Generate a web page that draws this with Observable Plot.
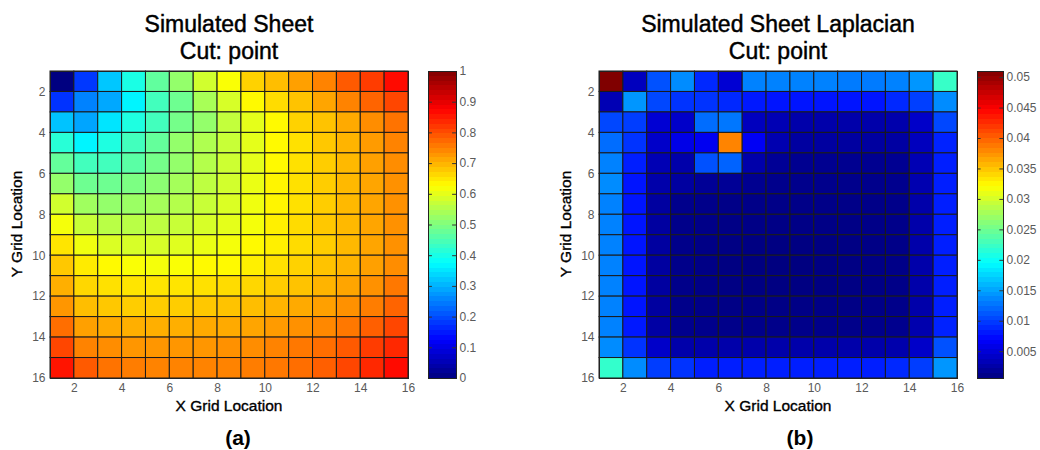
<!DOCTYPE html>
<html>
<head>
<meta charset="utf-8">
<script src="https://cdn.jsdelivr.net/npm/d3@7"></script>
<script src="https://cdn.jsdelivr.net/npm/@observablehq/plot@0.6"></script>
<style>
  body { margin: 0; background: #fff; }
  #fig { position: relative; width: 1040px; height: 450px; overflow: hidden;
         font-family: "Liberation Sans", Arial, Helvetica, sans-serif; color: #000; }
  .abs { position: absolute; }
  .title { font-size: 23px; font-weight: normal; text-align: center; line-height: 27px; width: 400px;
           -webkit-text-stroke: 0.45px #000; }
  .xlab { font-size: 15.5px; font-weight: normal; text-align: center; width: 300px; line-height: 18px;
          -webkit-text-stroke: 0.35px #000; }
  .ylab { font-size: 15.5px; font-weight: normal; text-align: center; width: 300px; line-height: 18px;
          -webkit-text-stroke: 0.35px #000;
          transform: rotate(-90deg); transform-origin: 50% 50%; }
  .cap { font-size: 21px; font-weight: bold; text-align: center; width: 100px; line-height: 24px; }
</style>
</head>
<body>
<div id="fig"></div>
<script>
// ---------- data ----------
const gridNodes = [1,2,3,4,5,6,7,8,9,10,11,12,13,14,15,16];
const gridTicks = [2,4,6,8,10,12,14,16];

// Simulated sheet (rows top->bottom = Y 1..15, columns = X 1..15)
const sheetValues = [
  [0.000,0.180,0.320,0.400,0.470,0.520,0.580,0.620,0.669,0.689,0.718,0.747,0.787,0.816,0.865],
  [0.174,0.252,0.290,0.365,0.440,0.483,0.540,0.586,0.630,0.659,0.684,0.713,0.747,0.777,0.806],
  [0.316,0.287,0.350,0.404,0.440,0.490,0.520,0.566,0.600,0.630,0.669,0.684,0.708,0.737,0.762],
  [0.414,0.365,0.404,0.440,0.473,0.520,0.547,0.571,0.600,0.630,0.654,0.679,0.699,0.723,0.747],
  [0.473,0.440,0.440,0.463,0.490,0.520,0.551,0.576,0.600,0.630,0.654,0.674,0.694,0.718,0.737],
  [0.520,0.483,0.483,0.497,0.512,0.537,0.561,0.581,0.605,0.635,0.654,0.674,0.694,0.713,0.733],
  [0.580,0.532,0.520,0.527,0.537,0.551,0.571,0.590,0.610,0.635,0.654,0.674,0.694,0.713,0.733],
  [0.615,0.571,0.556,0.556,0.561,0.571,0.586,0.600,0.615,0.640,0.659,0.679,0.694,0.713,0.733],
  [0.650,0.610,0.590,0.586,0.586,0.595,0.605,0.615,0.630,0.640,0.659,0.674,0.694,0.713,0.733],
  [0.679,0.645,0.630,0.620,0.615,0.620,0.630,0.630,0.640,0.654,0.669,0.684,0.699,0.718,0.737],
  [0.703,0.664,0.654,0.650,0.650,0.650,0.654,0.659,0.664,0.674,0.684,0.699,0.713,0.733,0.757],
  [0.728,0.689,0.679,0.674,0.674,0.674,0.679,0.684,0.689,0.699,0.708,0.718,0.733,0.752,0.777],
  [0.767,0.718,0.708,0.703,0.703,0.703,0.708,0.708,0.713,0.723,0.733,0.742,0.757,0.782,0.806],
  [0.806,0.747,0.737,0.728,0.728,0.728,0.728,0.733,0.737,0.747,0.757,0.767,0.787,0.816,0.836],
  [0.855,0.787,0.762,0.752,0.747,0.747,0.747,0.747,0.752,0.757,0.767,0.782,0.806,0.836,0.865]
];

// Simulated sheet Laplacian
const laplacianValues = [
  [0.0510,0.0037,0.0109,0.0138,0.0089,0.0047,0.0133,0.0133,0.0133,0.0133,0.0130,0.0130,0.0133,0.0143,0.0222],
  [0.0032,0.0143,0.0104,0.0094,0.0094,0.0089,0.0081,0.0079,0.0079,0.0079,0.0079,0.0079,0.0089,0.0100,0.0138],
  [0.0104,0.0099,0.0047,0.0042,0.0123,0.0128,0.0037,0.0032,0.0027,0.0027,0.0027,0.0027,0.0028,0.0042,0.0104],
  [0.0123,0.0094,0.0042,0.0057,0.0062,0.0382,0.0064,0.0030,0.0022,0.0022,0.0022,0.0022,0.0023,0.0037,0.0086],
  [0.0133,0.0084,0.0032,0.0027,0.0109,0.0118,0.0027,0.0017,0.0014,0.0014,0.0014,0.0014,0.0015,0.0032,0.0084],
  [0.0138,0.0079,0.0027,0.0022,0.0017,0.0017,0.0014,0.0012,0.0012,0.0012,0.0012,0.0012,0.0013,0.0030,0.0084],
  [0.0133,0.0079,0.0022,0.0012,0.0011,0.0010,0.0010,0.0010,0.0010,0.0010,0.0010,0.0010,0.0011,0.0027,0.0084],
  [0.0133,0.0079,0.0022,0.0011,0.0010,0.0009,0.0009,0.0009,0.0009,0.0009,0.0009,0.0010,0.0011,0.0027,0.0084],
  [0.0133,0.0079,0.0022,0.0011,0.0009,0.0008,0.0007,0.0007,0.0007,0.0007,0.0008,0.0009,0.0010,0.0027,0.0084],
  [0.0133,0.0079,0.0022,0.0011,0.0009,0.0007,0.0006,0.0006,0.0006,0.0007,0.0008,0.0009,0.0010,0.0027,0.0084],
  [0.0133,0.0079,0.0022,0.0011,0.0009,0.0008,0.0007,0.0007,0.0007,0.0007,0.0008,0.0009,0.0010,0.0027,0.0084],
  [0.0133,0.0079,0.0022,0.0011,0.0010,0.0009,0.0009,0.0009,0.0009,0.0009,0.0009,0.0010,0.0011,0.0027,0.0084],
  [0.0133,0.0081,0.0024,0.0013,0.0012,0.0011,0.0011,0.0011,0.0011,0.0011,0.0011,0.0012,0.0013,0.0029,0.0086],
  [0.0138,0.0094,0.0042,0.0027,0.0027,0.0027,0.0027,0.0027,0.0027,0.0027,0.0027,0.0027,0.0028,0.0042,0.0109],
  [0.0220,0.0138,0.0099,0.0094,0.0084,0.0084,0.0084,0.0084,0.0084,0.0084,0.0084,0.0084,0.0089,0.0099,0.0143]
];

const sheetRange = [0, 1];
const laplacianRange = [0.0006, 0.051];
const sheetBarTicks = [0,0.1,0.2,0.3,0.4,0.5,0.6,0.7,0.8,0.9,1];
const laplacianBarTicks = [0.005,0.01,0.015,0.02,0.025,0.03,0.035,0.04,0.045,0.05];

const titlesA = ["Simulated Sheet", "Cut: point"];
const titlesB = ["Simulated Sheet Laplacian", "Cut: point"];
const xLabel = "X Grid Location";
const yLabel = "Y Grid Location";
const captions = ["(a)", "(b)"];

// ---------- helpers ----------
const jetStops = [0, 0.125, 0.375, 0.625, 0.875, 1];
const jetColors = ["#000080", "#0000ff", "#00ffff", "#ffff00", "#ff0000", "#800000"];
const FONT = '"Liberation Sans", Arial, Helvetica, sans-serif';

function colorScale([lo, hi]) {
  return { type: "linear", domain: jetStops.map(t => lo + t * (hi - lo)), range: jetColors, clamp: true };
}

function cellsOf(values) {
  const out = [];
  values.forEach((row, r) => row.forEach((v, c) => out.push({
    x1: gridNodes[c], x2: gridNodes[c + 1], y1: gridNodes[r], y2: gridNodes[r + 1], v
  })));
  return out;
}

function heatmap(values, range) {
  return Plot.plot({
    width: 420, height: 400,
    marginLeft: 50, marginRight: 12, marginTop: 71, marginBottom: 22,
    x: { domain: [1, 16], ticks: gridTicks, tickSize: 0, tickPadding: 5, label: null },
    y: { domain: [1, 16], reverse: true, ticks: gridTicks, tickSize: 0, tickPadding: 5, label: null },
    color: colorScale(range),
    style: { fontFamily: FONT, fontSize: "12px", color: "#5a5a5a", background: "transparent" },
    marks: [
      Plot.rect(cellsOf(values), { x1: "x1", x2: "x2", y1: "y1", y2: "y2", fill: "v",
        stroke: "#1a1a1a", strokeWidth: 1 }),
      Plot.frame({ stroke: "#222" })
    ]
  });
}

function colorbar(range, ticks, widthPx, marginRight) {
  const [lo, hi] = range;
  const n = 64, step = (hi - lo) / n;
  const levels = d3.range(n).map(i => lo + i * step);
  return Plot.plot({
    width: widthPx, height: 400,
    marginLeft: 0, marginRight, marginTop: 71, marginBottom: 22,
    x: { domain: [0, 1], axis: null },
    y: { domain: range, axis: "right", ticks, tickSize: 0, tickPadding: 3, label: null,
         tickFormat: d3.format("~g") },
    color: colorScale(range),
    style: { fontFamily: FONT, fontSize: "12px", color: "#5a5a5a", background: "transparent" },
    marks: [
      Plot.rect(levels, { x1: 0, x2: 1, y1: d => d, y2: d => Math.min(hi, d + step * 1.6),
        fill: d => d + step / 2, shapeRendering: "crispEdges" }),
      Plot.ruleY(ticks, { x1: 0, x2: 0.14, stroke: "#333" }),
      Plot.ruleY(ticks, { x1: 0.86, x2: 1, stroke: "#333" }),
      Plot.frame({ stroke: "#222" })
    ]
  });
}

function place(el, left, top) {
  el.style.position = "absolute";
  el.style.left = left + "px";
  el.style.top = top + "px";
  fig.appendChild(el);
}
function label(cls, text, left, top) {
  const d = document.createElement("div");
  d.className = "abs " + cls;
  d.textContent = text;
  d.style.left = left + "px";
  d.style.top = top + "px";
  fig.appendChild(d);
  return d;
}

const fig = document.getElementById("fig");

// panel (a)
place(heatmap(sheetValues, sheetRange), 0, 0);
place(colorbar(sheetRange, sheetBarTicks, 60, 32), 428, 0);
// panel (b)
place(heatmap(laplacianValues, laplacianRange), 549, 0);
place(colorbar(laplacianRange, laplacianBarTicks, 63, 37), 977, 0);

// titles
[[titlesA, 229], [titlesB, 778]].forEach(([lines, cx]) => {
  const d = label("title", "", cx - 200, 11);
  d.innerHTML = lines.map(s => `<div>${s}</div>`).join("");
});
// axis labels
label("xlab", xLabel, 229 - 150, 397);
label("xlab", xLabel, 778 - 150, 397);
label("ylab", yLabel, 17 - 150, 224 - 9);
label("ylab", yLabel, 566 - 150, 224 - 9);
// captions
label("cap", captions[0], 238 - 50, 426);
label("cap", captions[1], 800 - 50, 426);
</script>
</body>
</html>
